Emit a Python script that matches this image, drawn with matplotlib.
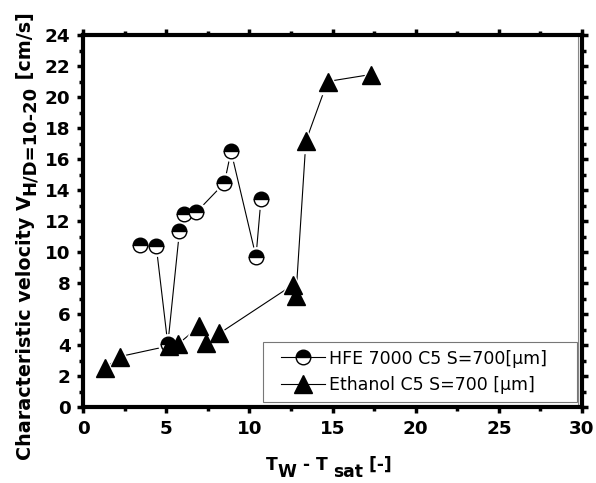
import matplotlib
matplotlib.use("Agg")
import matplotlib.pyplot as plt
from matplotlib.ticker import MultipleLocator
from matplotlib.legend_handler import HandlerLine2D

plt.rcParams['font.family'] = ['DejaVu Sans']

# HFE 7000 C5 S=700 um
hfe_x = [3.4, 4.4, 5.1, 5.8, 6.1, 6.8, 8.5, 8.9, 10.4, 10.7]
hfe_y = [10.45, 10.4, 4.05, 11.35, 12.45, 12.55, 14.45, 16.5, 9.7, 13.4]

# Ethanol C5 S=700 um
eth_x = [1.35, 2.2, 5.2, 5.7, 7.0, 7.4, 8.2, 12.65, 12.8, 13.4, 14.7, 17.3]
eth_y = [2.5, 3.25, 3.95, 4.05, 5.2, 4.15, 4.75, 7.9, 7.15, 17.15, 21.0, 21.45]

labels = ["HFE 7000 C5 S=700[\u03bcm]", "Ethanol C5 S=700 [\u03bcm]"]
xticks = [0, 5, 10, 15, 20, 25, 30]
yticks = list(range(0, 25, 2))

W, H = 596, 483
fig = plt.figure(figsize=(W / 100, H / 100), dpi=100)
ax = fig.add_axes([83 / W, 1 - 407 / H, (582 - 83) / W, (407 - 35) / H])

# lines
ax.plot(hfe_x, hfe_y, '-', color='black', lw=0.8, zorder=1)
ax.plot(eth_x, eth_y, '-', color='black', lw=0.8, zorder=1)
# white halos to create gaps like Origin
ax.plot(hfe_x, hfe_y, 'o', ms=14, color='white', mec='white', ls='none', zorder=2)
ax.plot(eth_x, eth_y, '^', ms=17, color='white', mec='white', ls='none', zorder=2)
# markers
ax.plot(hfe_x, hfe_y, 'o', ms=10.5, fillstyle='top', mfc='black', mfcalt='white',
        mec='black', mew=1.0, ls='none', zorder=3)
ax.plot(eth_x, eth_y, '^', ms=12.5, color='black', mec='black', ls='none', zorder=3)

# thin inner frame line on right (Origin layer frame)
ax.axvline(29.75, color='#888888', lw=0.8, zorder=0.5)

# legend handles
h1, = ax.plot([], [], '-o', color='black', lw=0.8, ms=10.5, fillstyle='top', mfc='black',
              mfcalt='white', mec='black', mew=1.0)
h2, = ax.plot([], [], '-^', color='black', lw=0.8, ms=12.5)
x0 = (263 - 83) / 499
w0 = (577 - 263) / 499
leg = ax.legend([h1, h2], labels, loc='lower left',
                bbox_to_anchor=(x0, (407 - 402) / 372, w0, 0.15), mode='expand',
                frameon=True, fancybox=False, edgecolor='#555555', fontsize=12.5,
                handlelength=3.1, borderpad=0.45, labelspacing=0.5, handletextpad=0.25,
                borderaxespad=0.0,
                handler_map={h1: HandlerLine2D(xpad=0.6), h2: HandlerLine2D(xpad=0.6)})
leg.get_frame().set_linewidth(0.8)
leg.set_zorder(5)

ax.set_xlim(0, 30)
ax.set_ylim(0, 24)
ax.set_xticks(xticks)
ax.set_yticks(yticks)
ax.xaxis.set_minor_locator(MultipleLocator(2.5))
ax.yaxis.set_minor_locator(MultipleLocator(1))

for s in ax.spines.values():
    s.set_linewidth(3)
ax.tick_params(which='both', direction='out', top=True, right=True, width=2.5,
               labeltop=False, labelright=False)
ax.tick_params(which='major', length=4.5, labelsize=13.2, pad=4.5)
ax.tick_params(which='minor', length=3)
for lab in ax.get_xticklabels() + ax.get_yticklabels():
    lab.set_fontweight('bold')

renderer = fig.canvas.get_renderer()


def text_width(s, size):
    t = fig.text(0, 0, s, fontsize=size, fontweight='bold')
    w = t.get_window_extent(renderer).width
    t.remove()
    return w


# x label built from pieces (subscripts nearly full size, lowered)
xl_size = 12.3
pieces_x = [("T", 0), ("W", -7), (" - T ", 0), ("sat", -7), (" [-]", 0)]
px = 266
base_y = 470
for s, dy in pieces_x:
    fig.text(px / W, 1 - (base_y - dy) / H, s, fontsize=xl_size, fontweight='bold',
             ha='left', va='baseline')
    px += text_width(s, xl_size)

# y label built from pieces, rotated
yl_size = 13.8
sub_size = 13.0
pieces_y = [("Characteristic velocity V", yl_size, 0), ("H/D=10-20", sub_size, 4),
            (" [cm/s]", yl_size, 0)]
py = 460
base_x = 31
for s, size, dx in pieces_y:
    fig.text((base_x + dx) / W, 1 - py / H, s, fontsize=size, fontweight='bold',
             rotation=90, rotation_mode='anchor', ha='left', va='baseline')
    py -= text_width(s, size)

fig.savefig("out.png", dpi=100)
